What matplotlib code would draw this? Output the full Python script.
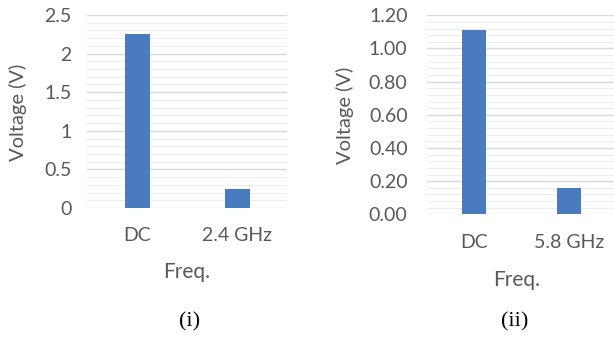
import matplotlib
matplotlib.use("Agg")
import matplotlib.pyplot as plt
from matplotlib.ticker import MultipleLocator, FuncFormatter

# data
cats_a = ["DC", "2.4 GHz"]
volts_a = [2.25, 0.24]
cats_b = ["DC", "5.8 GHz"]
volts_b = [1.11, 0.16]

W, H = 614, 341
bar_col = "#4a7bbf"
txt_col = "#595959"
font = "Lato"

fig = plt.figure(figsize=(W / 100, H / 100), dpi=100)


def px_axes(x0, y0, x1, y1):
    # pixel box (top-left origin) -> figure fraction
    return fig.add_axes([x0 / W, 1 - y1 / H, (x1 - x0) / W, (y1 - y0) / H])


def style(ax, cats, vals, ymax, major, fmt, xpad, ypad):
    ax.bar(range(len(cats)), vals, width=0.25, color=bar_col, zorder=3)
    ax.set_xlim(-0.5, len(cats) - 0.5)
    ax.set_ylim(0, ymax)
    ax.yaxis.set_major_locator(MultipleLocator(major))
    ax.yaxis.set_minor_locator(MultipleLocator(major / 5))
    ax.yaxis.set_major_formatter(FuncFormatter(fmt))
    ax.grid(axis="y", which="major", color="#d9d9d9", lw=1.0, zorder=0)
    ax.grid(axis="y", which="minor", color="#ededed", lw=0.8, zorder=0)
    ax.set_xticks(range(len(cats)))
    ax.set_xticklabels(cats)
    for s in ax.spines.values():
        s.set_visible(False)
    ax.tick_params(axis="both", which="both", length=0, colors=txt_col, labelsize=14)
    ax.tick_params(axis="x", pad=xpad)
    ax.tick_params(axis="y", pad=ypad)
    for lab in ax.get_xticklabels() + ax.get_yticklabels():
        lab.set_fontfamily(font)


ax1 = px_axes(87, 15, 287, 208)
style(ax1, cats_a, volts_a, 2.5, 0.5, lambda v, p: f"{v:g}", 14, 11)

ax2 = px_axes(427, 15.3, 616, 214.3)
style(ax2, cats_b, volts_b, 1.2, 0.2, lambda v, p: f"{v:.2f}", 14, 14)

# axis titles
fig.text(18 / W, 1 - 112 / H, "Voltage (V)", rotation=90, ha="center", va="center",
         color=txt_col, fontsize=14.5, family=font)
fig.text(345 / W, 1 - 115 / H, "Voltage (V)", rotation=90, ha="center", va="center",
         color=txt_col, fontsize=14.5, family=font)
fig.text(187 / W, 1 - 272 / H, "Freq.", ha="center", va="center",
         color=txt_col, fontsize=15, family=font)
fig.text(517 / W, 1 - 280 / H, "Freq.", ha="center", va="center",
         color=txt_col, fontsize=15, family=font)

# panel captions
fig.text(190 / W, 1 - 322 / H, "(i)", ha="center", va="center",
         fontsize=16, family="Liberation Serif", color="black")
fig.text(515 / W, 1 - 322 / H, "(ii)", ha="center", va="center",
         fontsize=16, family="Liberation Serif", color="black")

fig.savefig("out.png", dpi=100)
